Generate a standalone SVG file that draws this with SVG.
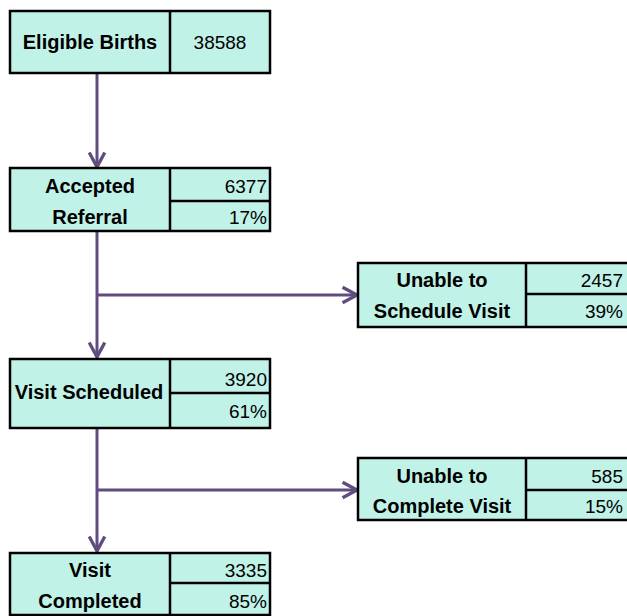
<svg xmlns="http://www.w3.org/2000/svg" width="627" height="616" viewBox="0 0 627 616">
<style>
.cell{fill:#C1F2E8;stroke:#000;stroke-width:2.5}
.div{stroke:#000;stroke-width:2.5}
.lbl{font-family:"Liberation Sans",Arial,sans-serif;font-weight:bold;font-size:20px;fill:#000;text-anchor:middle}
.num{font-family:"Liberation Sans",Arial,sans-serif;font-size:19px;fill:#000;text-anchor:end}
.numc{font-family:"Liberation Sans",Arial,sans-serif;font-size:19px;fill:#000;text-anchor:middle}
.conn{stroke:#604C7E;stroke-width:3;fill:none}
</style>
<defs>
<marker id="arr" markerUnits="userSpaceOnUse" markerWidth="20" markerHeight="20" viewBox="-2 -2 18 18" refX="13" refY="7" orient="auto" overflow="visible">
<path d="M0,0 L13,7 L0,14" fill="none" stroke="#604C7E" stroke-width="3"/>
</marker>
</defs>
<rect width="627" height="616" fill="#fff"/>
<g id="connectors">
<line class="conn" x1="97" y1="73" x2="97" y2="167" marker-end="url(#arr)"/>
<line class="conn" x1="97" y1="231" x2="97" y2="357" marker-end="url(#arr)"/>
<line class="conn" x1="97" y1="295" x2="357" y2="295" marker-end="url(#arr)"/>
<line class="conn" x1="97" y1="428" x2="97" y2="551" marker-end="url(#arr)"/>
<line class="conn" x1="97" y1="490" x2="357" y2="490" marker-end="url(#arr)"/>
</g>
<g id="eligible-births">
<rect class="cell" x="10" y="11" width="260" height="62"/>
<line class="div" x1="170" y1="11" x2="170" y2="73"/>
<text class="lbl" x="90" y="49">Eligible Births</text>
<text class="numc" x="220" y="49">38588</text>
</g>
<g id="accepted-referral">
<rect class="cell" x="10" y="168" width="260" height="63"/>
<line class="div" x1="170" y1="168" x2="170" y2="231"/>
<line class="div" x1="170" y1="201" x2="270" y2="201"/>
<text class="lbl" x="90" y="193">Accepted</text>
<text class="lbl" x="90" y="224">Referral</text>
<text class="num" x="267" y="193">6377</text>
<text class="num" x="267" y="224">17%</text>
</g>
<g id="unable-schedule">
<rect class="cell" x="358" y="263" width="290" height="64"/>
<line class="div" x1="526" y1="263" x2="526" y2="327"/>
<line class="div" x1="526" y1="294" x2="640" y2="294"/>
<text class="lbl" x="442" y="287">Unable to</text>
<text class="lbl" x="442" y="318">Schedule Visit</text>
<text class="num" x="623" y="287">2457</text>
<text class="num" x="623" y="318">39%</text>
</g>
<g id="visit-scheduled">
<rect class="cell" x="10" y="359" width="260" height="69"/>
<line class="div" x1="170" y1="359" x2="170" y2="428"/>
<line class="div" x1="170" y1="393" x2="270" y2="393"/>
<text class="lbl" x="89" y="399">Visit Scheduled</text>
<text class="num" x="267" y="386">3920</text>
<text class="num" x="267" y="418">61%</text>
</g>
<g id="unable-complete">
<rect class="cell" x="358" y="458" width="290" height="62"/>
<line class="div" x1="526" y1="458" x2="526" y2="520"/>
<line class="div" x1="526" y1="490" x2="640" y2="490"/>
<text class="lbl" x="442" y="483">Unable to</text>
<text class="lbl" x="442" y="513">Complete Visit</text>
<text class="num" x="623" y="483">585</text>
<text class="num" x="623" y="513">15%</text>
</g>
<g id="visit-completed">
<rect class="cell" x="10" y="553" width="260" height="62"/>
<line class="div" x1="170" y1="553" x2="170" y2="615"/>
<line class="div" x1="170" y1="583" x2="270" y2="583"/>
<text class="lbl" x="90" y="577">Visit</text>
<text class="lbl" x="90" y="608">Completed</text>
<text class="num" x="267" y="577">3335</text>
<text class="num" x="267" y="608">85%</text>
</g>
</svg>
